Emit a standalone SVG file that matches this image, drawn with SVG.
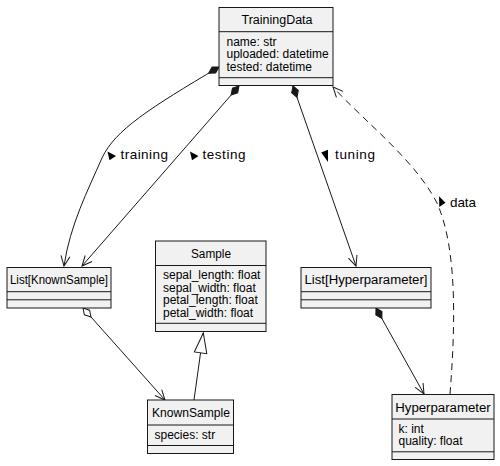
<svg xmlns="http://www.w3.org/2000/svg" width="500" height="466" viewBox="0 0 500 466">
<defs>
<style>
.box{fill:#F1F1F1;stroke:#181818;stroke-width:1}
.sep{stroke:#181818;stroke-width:1;fill:none}
.title{font-family:"Liberation Sans",Arial,sans-serif;font-size:12.5px;fill:#000;text-anchor:middle}
.attr{font-family:"Liberation Sans",Arial,sans-serif;font-size:12px;fill:#000}
.lbl{font-family:"Liberation Sans",Arial,sans-serif;font-size:13.5px;fill:#000}
.edge{fill:none;stroke:#181818;stroke-width:1}
.dash{stroke-dasharray:7,5}
.lm{fill:#000}
</style>
<marker id="fd" markerUnits="userSpaceOnUse" markerWidth="16" markerHeight="10" viewBox="0 0 16 10" refX="1" refY="5" orient="auto"><path d="M1,5 L7,1.5 L13,5 L7,8.5 Z" fill="#181818" stroke="#181818" stroke-width="1"/></marker>
<marker id="od" markerUnits="userSpaceOnUse" markerWidth="16" markerHeight="10" viewBox="0 0 16 10" refX="1" refY="5" orient="auto"><path d="M1,5 L7,1.5 L13,5 L7,8.5 Z" fill="#ffffff" stroke="#181818" stroke-width="1"/></marker>
<marker id="ar" markerUnits="userSpaceOnUse" markerWidth="14" markerHeight="12" viewBox="0 0 14 12" refX="12" refY="6" orient="auto"><path d="M2,1.5 L12,6 L2,10.5" fill="none" stroke="#181818" stroke-width="1"/></marker>
<marker id="tri" markerUnits="userSpaceOnUse" markerWidth="22" markerHeight="14" viewBox="0 0 22 14" refX="21" refY="7" orient="auto"><path d="M1,0.7 L21,7 L1,13.3 Z" fill="#ffffff" stroke="#181818" stroke-width="1"/></marker>
</defs>
<rect width="500" height="466" fill="#ffffff"/>

<g id="connectors">
  <path class="edge" d="M219,67 C150,108 115,130 102,158 C88,190 70,225 64,266" marker-start="url(#fd)" marker-end="url(#ar)"/>
  <path class="edge" d="M239,86 L82,266" marker-start="url(#fd)" marker-end="url(#ar)"/>
  <path class="edge" d="M293,86 L356,266" marker-start="url(#fd)" marker-end="url(#ar)"/>
  <path class="edge dash" d="M450,394 C455,330 458,250 437,203 C415,160 365,122 333,87" marker-end="url(#ar)"/>
  <path class="edge" d="M83,308 L165,400" marker-start="url(#od)" marker-end="url(#ar)"/>
  <path class="edge" d="M194,400 L203.3,333" marker-end="url(#tri)"/>
  <path class="edge" d="M376,308 L424,394" marker-start="url(#fd)" marker-end="url(#ar)"/>
  <polygon class="lm" points="107.5,151.5 116,156 109.5,160.3"/>
  <text class="lbl" x="120.5" y="158.5" textLength="47.5" lengthAdjust="spacing">training</text>
  <polygon class="lm" points="190,151.5 198.5,156 192,160.3"/>
  <text class="lbl" x="202.5" y="158.5" textLength="43" lengthAdjust="spacing">testing</text>
  <polygon class="lm" points="328,149.7 328,162 321.2,152.5"/>
  <text class="lbl" x="335" y="158.5" textLength="40" lengthAdjust="spacing">tuning</text>
  <polygon class="lm" points="439,196.2 445.5,202.7 439.3,207"/>
  <text class="lbl" x="450" y="206.5" textLength="26" lengthAdjust="spacing">data</text>
</g>

<g id="TrainingData">
  <rect class="box" x="219" y="7.5" width="114" height="78"/>
  <line class="sep" x1="219" y1="31.7" x2="333" y2="31.7"/>
  <line class="sep" x1="219" y1="77.7" x2="333" y2="77.7"/>
  <text class="title" x="277" y="24" textLength="71" lengthAdjust="spacingAndGlyphs">TrainingData</text>
  <text class="attr" x="226.5" y="45.7">name: str</text>
  <text class="attr" x="226.5" y="58.2">uploaded: datetime</text>
  <text class="attr" x="226.5" y="70.7">tested: datetime</text>
</g>

<g id="ListKnownSample">
  <rect class="box" x="7" y="267.5" width="104" height="40.5"/>
  <line class="sep" x1="7" y1="291.7" x2="111" y2="291.7"/>
  <line class="sep" x1="7" y1="299.8" x2="111" y2="299.8"/>
  <text class="title" x="59" y="284.3" textLength="98" lengthAdjust="spacingAndGlyphs">List[KnownSample]</text>
</g>

<g id="Sample">
  <rect class="box" x="155.5" y="241" width="110.5" height="90.5"/>
  <line class="sep" x1="155.5" y1="265.5" x2="266" y2="265.5"/>
  <line class="sep" x1="155.5" y1="323.3" x2="266" y2="323.3"/>
  <text class="title" x="211" y="258" textLength="40" lengthAdjust="spacingAndGlyphs">Sample</text>
  <text class="attr" x="163" y="279.2">sepal_length: float</text>
  <text class="attr" x="163" y="291.7">sepal_width: float</text>
  <text class="attr" x="163" y="304.2">petal_length: float</text>
  <text class="attr" x="163" y="316.7">petal_width: float</text>
</g>

<g id="ListHyperparameter">
  <rect class="box" x="301" y="267.5" width="130" height="40.5"/>
  <line class="sep" x1="301" y1="291.7" x2="431" y2="291.7"/>
  <line class="sep" x1="301" y1="299.8" x2="431" y2="299.8"/>
  <text class="title" x="366" y="284.3" textLength="123" lengthAdjust="spacingAndGlyphs">List[Hyperparameter]</text>
</g>

<g id="KnownSample">
  <rect class="box" x="147.5" y="400" width="86" height="53.5"/>
  <line class="sep" x1="147.5" y1="425" x2="233.5" y2="425"/>
  <line class="sep" x1="147.5" y1="445.5" x2="233.5" y2="445.5"/>
  <text class="title" x="191" y="417.3" textLength="78" lengthAdjust="spacingAndGlyphs">KnownSample</text>
  <text class="attr" x="154.5" y="438.5">species: str</text>
</g>

<g id="Hyperparameter">
  <rect class="box" x="392" y="394.5" width="102" height="65"/>
  <line class="sep" x1="392" y1="419" x2="494" y2="419"/>
  <line class="sep" x1="392" y1="451.8" x2="494" y2="451.8"/>
  <text class="title" x="443" y="411.5" textLength="95.5" lengthAdjust="spacingAndGlyphs">Hyperparameter</text>
  <text class="attr" x="398.5" y="432.7">k: int</text>
  <text class="attr" x="398.5" y="445.2">quality: float</text>
</g>
</svg>
